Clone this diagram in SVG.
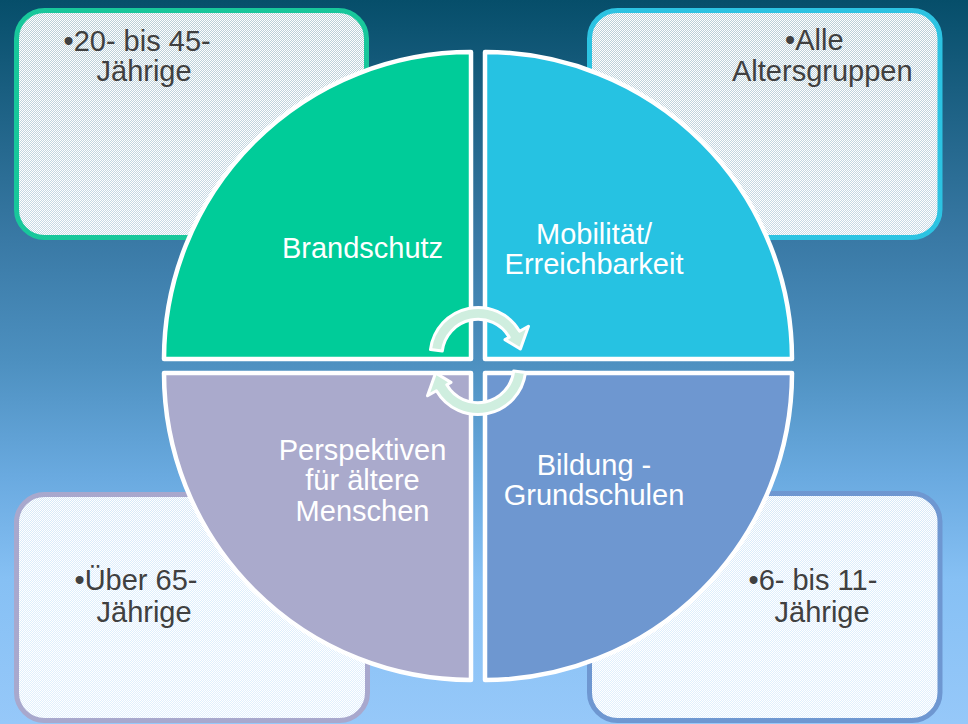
<svg xmlns="http://www.w3.org/2000/svg" width="968" height="724" viewBox="0 0 968 724">
  <defs>
    <linearGradient id="bg" x1="0" y1="0" x2="0" y2="1">
      <stop offset="0" stop-color="#064E6A"/>
      <stop offset="0.33" stop-color="#3979A5"/>
      <stop offset="0.5" stop-color="#4D90C0"/>
      <stop offset="0.66" stop-color="#6AAAE0"/>
      <stop offset="0.8" stop-color="#86C0F4"/>
      <stop offset="1" stop-color="#96C8F9"/>
    </linearGradient>
    <pattern id="dots" x="0" y="0" width="2" height="2" patternUnits="userSpaceOnUse">
      <rect x="0" y="0" width="2" height="2" fill="#FFFFFF" fill-opacity="0.72"/>
      <rect x="0" y="0" width="1" height="1" fill="#FFFFFF"/>
      <rect x="1" y="1" width="1" height="1" fill="#FFFFFF"/>
    </pattern>
    <path id="cyc" d="M430.5,349.5 A48,48 0 0 1 519.6,331.3 L528.5,326.3 L520.4,349.0 L505.0,339.6 L509.2,337.3 A36,36 0 0 0 442.3,351.0 Z"/>
  </defs>
  <style>
    .box { fill: url(#dots); stroke-width: 5; }
    .quad { stroke: #FFFFFF; stroke-width: 4.5; stroke-linejoin: round; }
    .btxt { font-family: "Liberation Sans", Arial, sans-serif; font-size: 29px; fill: #404040; }
    .qtxt { font-family: "Liberation Sans", Arial, sans-serif; font-size: 29px; fill: #FFFFFF; text-anchor: middle; }
    .arrow { fill: #CFEEDF; stroke: #FFFFFF; stroke-width: 3; stroke-linejoin: round; }
  </style>

  <rect x="0" y="0" width="968" height="724" fill="url(#bg)"/>

  <g id="box-tl">
    <rect class="box" x="16.5" y="10.5" width="350" height="227" rx="28" ry="28" stroke="#18C79B"/>
    <text class="btxt" x="63.5" y="51">•20- bis 45-</text>
    <text class="btxt" x="96.5" y="81">Jährige</text>
  </g>
  <g id="box-tr">
    <rect class="box" x="589.5" y="10.5" width="350.5" height="227" rx="28" ry="28" stroke="#2CC3E2"/>
    <text class="btxt" x="785" y="50">•Alle</text>
    <text class="btxt" x="732" y="81">Altersgruppen</text>
  </g>
  <g id="box-bl">
    <rect class="box" x="16.5" y="494.5" width="351" height="226" rx="28" ry="28" stroke="#A8A8CD"/>
    <text class="btxt" x="74.5" y="590">•Über 65-</text>
    <text class="btxt" x="96.5" y="621.5">Jährige</text>
  </g>
  <g id="box-br">
    <rect class="box" x="589.5" y="493.5" width="350.5" height="227" rx="28" ry="28" stroke="#6E97D1"/>
    <text class="btxt" x="748.5" y="590">•6- bis 11-</text>
    <text class="btxt" x="774.5" y="621.5">Jährige</text>
  </g>

  <g id="quad-brandschutz">
    <path class="quad" fill="#00CC99" d="M471,359 L164,359 A307,307 0 0 1 471,52 Z"/>
    <text class="qtxt" x="362.5" y="258">Brandschutz</text>
  </g>
  <g id="quad-mobilitaet">
    <path class="quad" fill="#26C2E2" d="M485,359 L485,52 A307,307 0 0 1 792,359 Z"/>
    <text class="qtxt" x="594" y="243.5">Mobilität/</text>
    <text class="qtxt" x="594" y="273.5">Erreichbarkeit</text>
  </g>
  <g id="quad-bildung">
    <path class="quad" fill="#6E97D0" d="M485,373 L792,373 A307,307 0 0 1 485,680 Z"/>
    <text class="qtxt" x="594" y="475">Bildung -</text>
    <text class="qtxt" x="594" y="505">Grundschulen</text>
  </g>
  <g id="quad-perspektiven">
    <path class="quad" fill="#AAAACC" d="M471,373 L471,680 A307,307 0 0 1 164,373 Z"/>
    <text class="qtxt" x="362.5" y="459.5">Perspektiven</text>
    <text class="qtxt" x="362.5" y="490">für ältere</text>
    <text class="qtxt" x="362.5" y="520.5">Menschen</text>
  </g>

  <g id="connectors">
    <use href="#cyc" class="arrow"/>
    <use href="#cyc" class="arrow" transform="rotate(180 478 361)"/>
  </g>
</svg>
